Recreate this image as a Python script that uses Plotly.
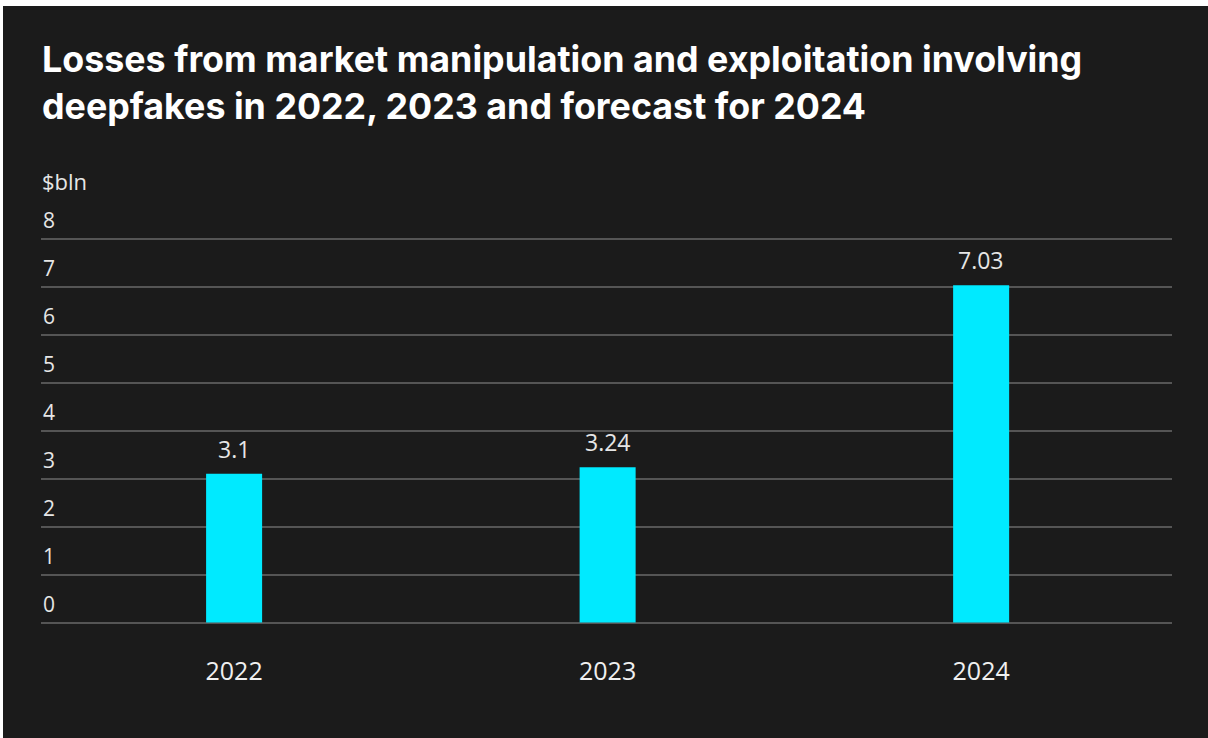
import plotly.graph_objects as go

years = ["2022", "2023", "2024"]
losses = [3.1, 3.24, 7.03]
value_labels = ["3.1", "3.24", "7.03"]
y_ticks = [0, 1, 2, 3, 4, 5, 6, 7, 8]

BG = "#1b1b1b"
TXT = "Open Sans, Liberation Sans, Arial"
W, H = 1208, 738
ML, MR, MT, MB = 41, 36, 210, 113
pw = W - ML - MR
ph = H - MT - MB

fig = go.Figure()
fig.add_trace(go.Bar(
    x=years, y=losses,
    marker=dict(color="#00eaff", line=dict(width=0)),
    width=0.15,
    hoverinfo="skip",
))

for i, (v, t) in enumerate(zip(losses, value_labels)):
    fig.add_annotation(x=i, y=v, text=t, showarrow=False, yanchor="bottom",
                       yshift=7, font=dict(family=TXT, size=23, color="#e6e6e6"))

# y tick labels sitting above their gridlines
for v in y_ticks:
    fig.add_annotation(xref="paper", x=(41 - ML) / pw, y=v, text=str(v), showarrow=False,
                       xanchor="left", yanchor="bottom", yshift=3,
                       font=dict(family=TXT, size=21, color="#e6e6e6"))

# title
fig.add_annotation(xref="paper", yref="paper", x=(40 - ML) / pw, y=1 + (MT - 35) / ph,
                   xanchor="left", yanchor="top", align="left", showarrow=False,
                   text="<b>Losses from market manipulation and exploitation involving<br>deepfakes in 2022, 2023 and forecast for 2024</b>",
                   font=dict(family="Inter, Roboto, sans-serif", size=35.8, color="#ffffff"))
# unit label
fig.add_annotation(xref="paper", yref="paper", x=(40 - ML) / pw, y=1 + (MT - 181) / ph,
                   xanchor="left", yanchor="middle", showarrow=False, text="$bln",
                   font=dict(family=TXT, size=22, color="#e6e6e6"))

# white strips at top and left edges
fig.add_shape(type="rect", xref="paper", yref="paper", x0=-ML / pw - 0.01, x1=1 + MR / pw + 0.01,
              y0=1 + (MT - 6) / ph, y1=1 + (MT + 5) / ph, fillcolor="#ffffff", line=dict(width=0), layer="above")
fig.add_shape(type="rect", xref="paper", yref="paper", x0=-ML / pw - 0.01, x1=(-ML + 3) / pw,
              y0=-MB / ph - 0.01, y1=1 + (MT + 5) / ph, fillcolor="#ffffff", line=dict(width=0), layer="above")

fig.update_layout(
    width=W, height=H,
    margin=dict(l=ML, r=MR, t=MT, b=MB),
    paper_bgcolor=BG, plot_bgcolor=BG,
    showlegend=False,
    xaxis=dict(
        type="category", range=[-0.517, 2.511], showgrid=False, zeroline=False, showline=False,
        ticks="", ticklabelstandoff=29,
        tickfont=dict(family=TXT, size=25, color="#f0f0f0"),
    ),
    yaxis=dict(
        range=[-0.05, 8.6], tickvals=y_ticks, showticklabels=False,
        showgrid=True, gridcolor="#555555", gridwidth=1.5,
        zeroline=False, showline=False, ticks="",
    ),
)

fig.write_html("out.html")
